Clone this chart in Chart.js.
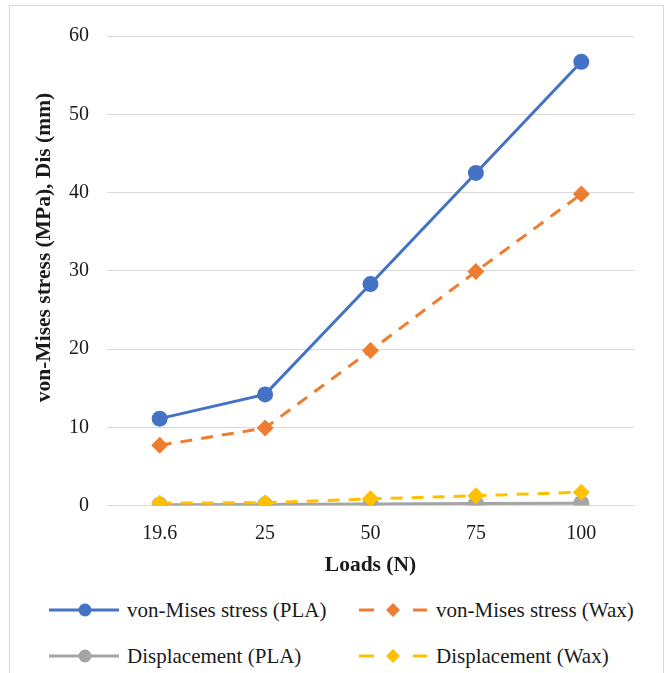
<!DOCTYPE html>
<html>
<head>
<meta charset="utf-8">
<script src="https://cdn.jsdelivr.net/npm/chart.js@4/dist/chart.umd.min.js"></script>
<style>
  html, body { margin: 0; padding: 0; background: #fff; }
  body { width: 667px; height: 673px; position: relative; overflow: hidden; font-family: "Liberation Serif", "Times New Roman", serif; }
  #frame { position: absolute; left: 9px; top: 5px; width: 655px; height: 720px; border: 1px solid #d9d9d9; box-sizing: border-box; }
  #c { position: absolute; left: 0; top: 0; }
  .leg { position: absolute; display: flex; align-items: center; font-size: 21px; color: #1a1a1a; white-space: nowrap; }
  .leg svg { margin-right: 8px; flex: none; }
</style>
</head>
<body>
<div id="frame"></div>
<canvas id="c" width="667" height="590"></canvas>
<div id="legend"></div>
<script>
// ---- data ----
const loads = ['19.6', '25', '50', '75', '100'];
const stressPLA = [11.1, 14.2, 28.3, 42.5, 56.7];
const stressWax = [7.7, 9.9, 19.8, 29.9, 39.8];
const dispPLA = [0.1, 0.12, 0.2, 0.25, 0.3];
const dispWax = [0.3, 0.35, 0.85, 1.25, 1.7];
const seriesNames = ['von-Mises stress (PLA)', 'von-Mises stress (Wax)', 'Displacement (PLA)', 'Displacement (Wax)'];
const yTicks = [0, 10, 20, 30, 40, 50, 60];
const xTitle = 'Loads (N)';
const yTitle = 'von-Mises stress (MPa), Dis (mm)';

const colors = ['#4472C4', '#ED7D31', '#A5A5A5', '#FFC000'];
const shapes = ['circle', 'rectRot', 'circle', 'rectRot'];
const dashes = [[], [12, 9], [], [12, 9]];
const values = [stressPLA, stressWax, dispPLA, dispWax];

const FONT = '"Liberation Serif", "Times New Roman", serif';

const datasets = values.map((v, i) => ({
  label: seriesNames[i],
  data: v,
  borderColor: colors[i],
  backgroundColor: colors[i],
  borderWidth: 3,
  borderDash: dashes[i],
  pointStyle: shapes[i],
  pointRadius: shapes[i] === 'circle' ? 8 : 8.5,
  pointBorderWidth: 0,
  pointBackgroundColor: colors[i],
  tension: 0,
  order: values.length - i
}));

// y-axis title drawn rotated (offset from axis centre as in the reference)
const yTitlePlugin = {
  id: 'yTitle',
  afterDraw(chart) {
    const ctx = chart.ctx;
    ctx.save();
    ctx.translate(44, 247.5);
    ctx.rotate(-Math.PI / 2);
    ctx.font = 'bold 21.5px ' + FONT;
    ctx.fillStyle = '#1a1a1a';
    ctx.textAlign = 'center';
    ctx.textBaseline = 'middle';
    ctx.fillText(yTitle, 0, 0);
    ctx.restore();
  }
};

new Chart(document.getElementById('c'), {
  type: 'line',
  data: { labels: loads, datasets },
  plugins: [yTitlePlugin],
  options: {
    responsive: false,
    animation: false,
    devicePixelRatio: 1,
    layout: { padding: { top: 36, right: 33, left: 0, bottom: 0 } },
    plugins: { legend: { display: false }, tooltip: { enabled: false } },
    scales: {
      x: {
        offset: true,
        grid: { display: false },
        border: { display: false },
        ticks: { color: '#1a1a1a', font: { family: FONT, size: 20 }, padding: 8, maxRotation: 0 },
        title: { display: true, text: xTitle, color: '#1a1a1a', font: { family: FONT, size: 21.5, weight: 'bold' }, padding: { top: 0, bottom: 12 } },
        afterFit: s => { s.height = 84.5; }
      },
      y: {
        min: 0, max: 60,
        afterBuildTicks: s => { s.ticks = yTicks.map(v => ({ value: v })); },
        grid: { color: '#d9d9d9', lineWidth: 1, drawTicks: false },
        border: { display: false },
        ticks: { color: '#1a1a1a', font: { family: FONT, size: 20 }, padding: 18 },
        title: { display: false },
        afterFit: s => { s.width = 107; }
      }
    }
  }
});

// ---- HTML legend ----
const legPos = [[49, 610], [358, 610], [49, 656], [358, 656]];
const legend = document.getElementById('legend');
seriesNames.forEach((name, i) => {
  const d = document.createElement('div');
  d.className = 'leg';
  d.style.left = legPos[i][0] + 'px';
  d.style.top = (legPos[i][1] - 12) + 'px';
  d.style.height = '24px';
  const c = colors[i];
  let line;
  if (dashes[i].length) {
    line = `<line x1="1" y1="12" x2="16" y2="12" stroke="${c}" stroke-width="3"/><line x1="55" y1="12" x2="69" y2="12" stroke="${c}" stroke-width="3"/>`;
  } else {
    line = `<line x1="0" y1="12" x2="70" y2="12" stroke="${c}" stroke-width="3"/>`;
  }
  const marker = shapes[i] === 'circle'
    ? `<circle cx="36" cy="12" r="6.5" fill="${c}"/>`
    : `<polygon points="35,5 42,12 35,19 28,12" fill="${c}"/>`;
  d.innerHTML = `<svg width="70" height="24">${line}${marker}</svg><span>${name}</span>`;
  legend.appendChild(d);
});
</script>
</body>
</html>
